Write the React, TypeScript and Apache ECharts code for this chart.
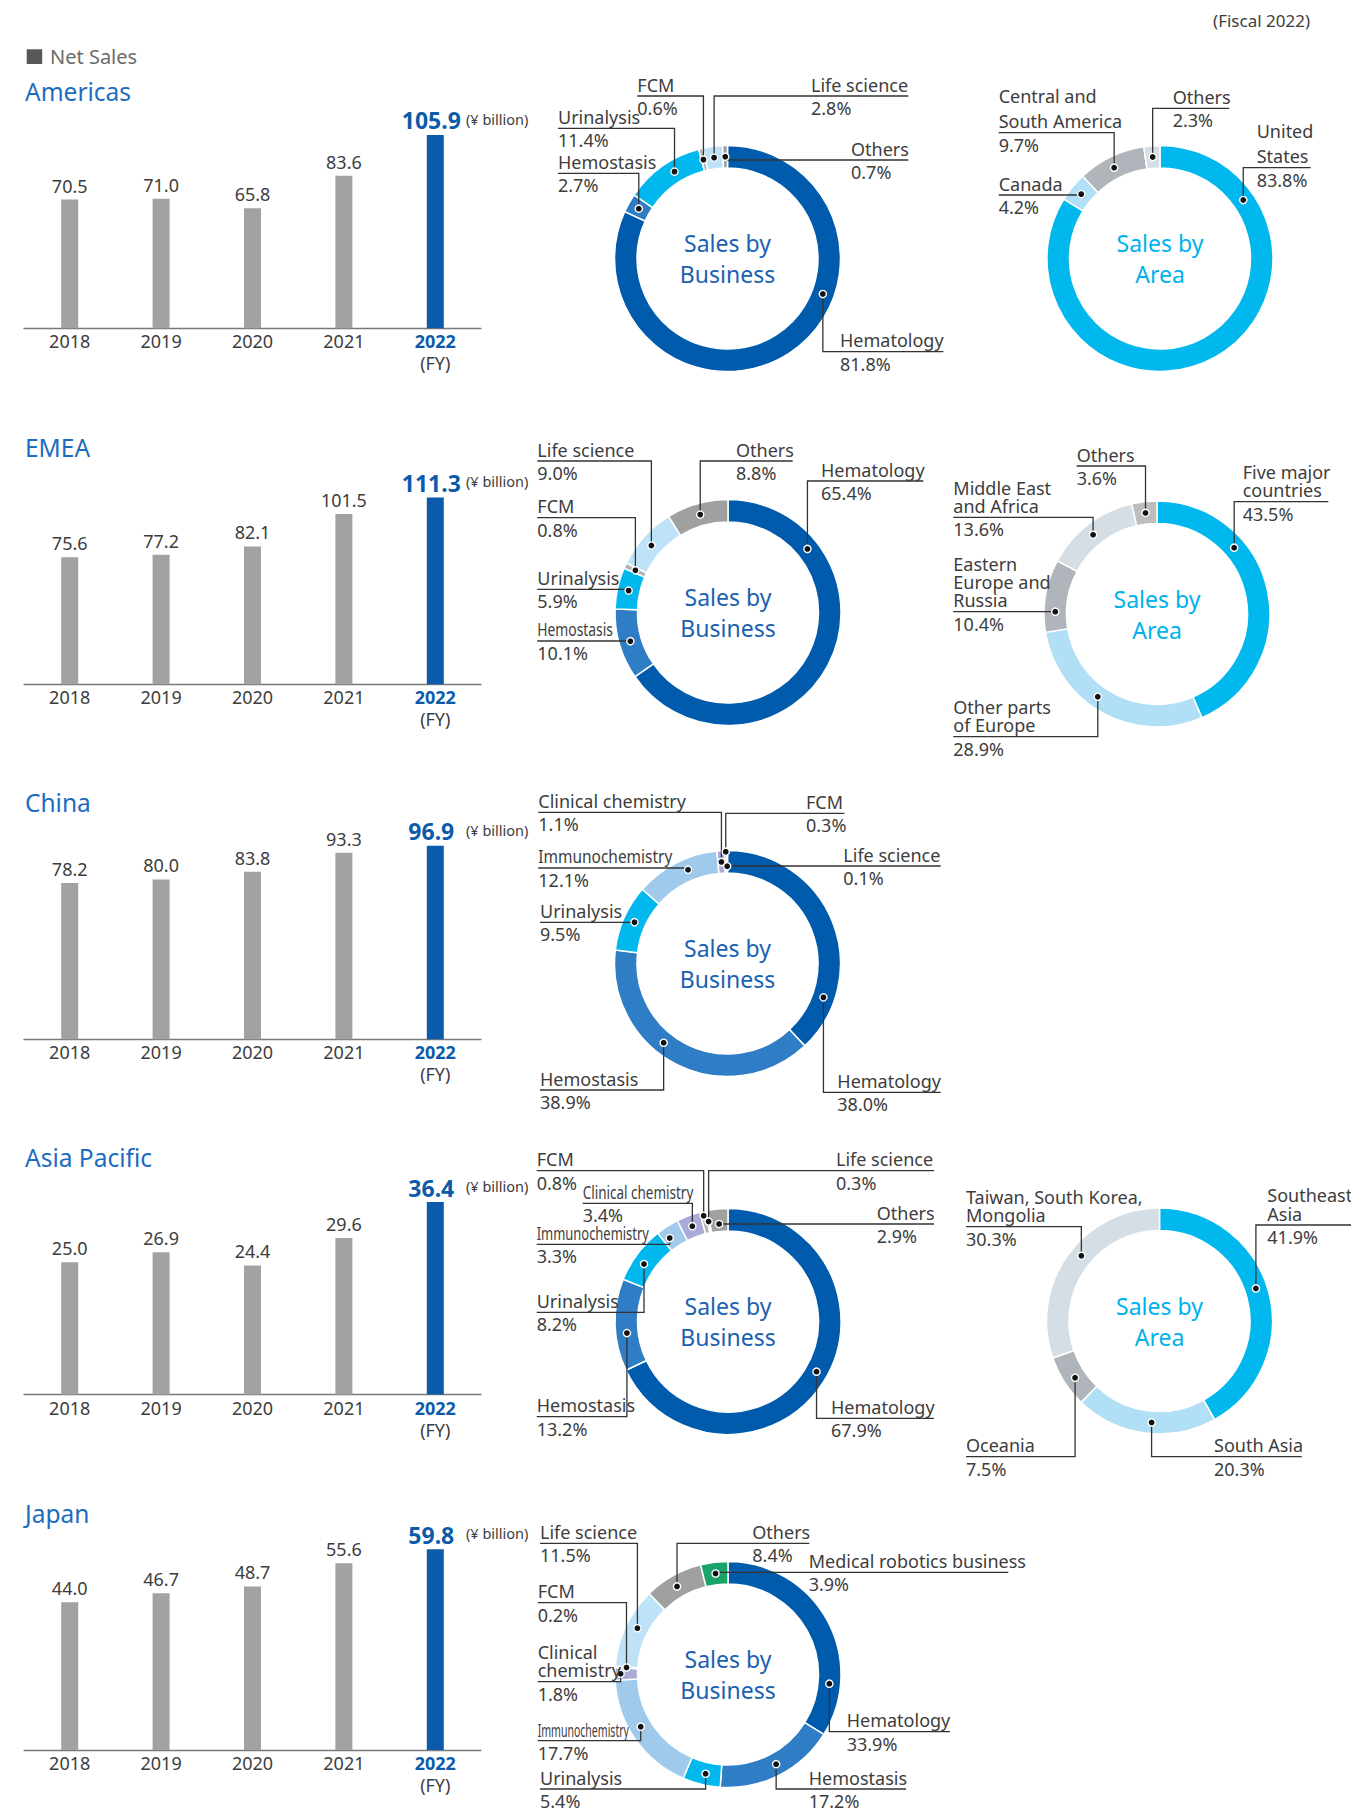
import { useEffect, useRef } from "react";
import * as echarts from "echarts";

// ---------- data ----------
const years = ["2018", "2019", "2020", "2021", "2022"];
const regionTitles = ["Americas", "EMEA", "China", "Asia Pacific", "Japan"];
const americasSales = [70.5, 71.0, 65.8, 83.6, 105.9];
const emeaSales = [75.6, 77.2, 82.1, 101.5, 111.3];
const chinaSales = [78.2, 80.0, 83.8, 93.3, 96.9];
const apSales = [25.0, 26.9, 24.4, 29.6, 36.4];
const japanSales = [44.0, 46.7, 48.7, 55.6, 59.8];

const americasBizNames = ["Hematology", "Hemostasis", "Urinalysis", "FCM", "Life science", "Others"];
const americasBizValues = [81.8, 2.7, 11.4, 0.6, 2.8, 0.7];
const emeaBizNames = ["Hematology", "Hemostasis", "Urinalysis", "FCM", "Life science", "Others"];
const emeaBizValues = [65.4, 10.1, 5.9, 0.8, 9.0, 8.8];
const chinaBizNames = ["Hematology", "Hemostasis", "Urinalysis", "Immunochemistry", "Clinical chemistry", "FCM", "Life science"];
const chinaBizValues = [38.0, 38.9, 9.5, 12.1, 1.1, 0.3, 0.1];
const apBizNames = ["Hematology", "Hemostasis", "Urinalysis", "Immunochemistry", "Clinical chemistry", "FCM", "Life science", "Others"];
const apBizValues = [67.9, 13.2, 8.2, 3.3, 3.4, 0.8, 0.3, 2.9];
const japanBizNames = ["Hematology", "Hemostasis", "Urinalysis", "Immunochemistry", "Clinical\nchemistry", "FCM", "Life science", "Others", "Medical robotics business"];
const japanBizValues = [33.9, 17.2, 5.4, 17.7, 1.8, 0.2, 11.5, 8.4, 3.9];

const americasAreaNames = ["United\nStates", "Canada", "Central and\nSouth America", "Others"];
const americasAreaValues = [83.8, 4.2, 9.7, 2.3];
const emeaAreaNames = ["Five major\ncountries", "Other parts\nof Europe", "Eastern\nEurope and\nRussia", "Middle East\nand Africa", "Others"];
const emeaAreaValues = [43.5, 28.9, 10.4, 13.6, 3.6];
const apAreaNames = ["Southeast\nAsia", "South Asia", "Oceania", "Taiwan, South Korea,\nMongolia"];
const apAreaValues = [41.9, 20.3, 7.5, 30.3];

// ---------- styles / layout ----------
const FONT = "'Noto Sans', 'DejaVu Sans', sans-serif";
const TEXT = "#3d3d3d";
const BLUE_TITLE = "#1c6cbf";
const BAR_GRAY = "#a2a2a2";
const BAR_BLUE = "#0b5baa";

const bizColor: Record<string, string> = {
  Hematology: "#005bac",
  Hemostasis: "#2f7dc4",
  Urinalysis: "#00b8ee",
  Immunochemistry: "#9fcaeb",
  "Clinical chemistry": "#a9acd9",
  "Clinical\nchemistry": "#a9acd9",
  FCM: "#b4b4b4",
  "Life science": "#bee3f8",
  Others: "#9fa0a0",
  "Medical robotics business": "#1aa36b",
};
const americasAreaColors = ["#00b8ee", "#b1dff6", "#afb5bb", "#d5dee4"];
const emeaAreaColors = ["#00b8ee", "#b1dff6", "#afb5bb", "#d5dee4", "#bdbdbd"];
const apAreaColors = ["#00b8ee", "#b1dff6", "#afb5bb", "#d5dee4"];

const rowBase = [328.3, 684.2, 1039.3, 1394.5, 1750];
const yMax = [126.0, 137.1, 115.1, 43.5, 68.5];
const GRID_H = 230;
const R_IN = 90.5;
const R_OUT = 113;

type LP = { tx: number; ty: number; ex: number; t?: number; rf?: number; sx?: number };

const americasBizLayout: LP[] = [
  { tx: 840, ty: 351.7, ex: 943.3, t: 0.375 },
  { tx: 558, ty: 173.3, ex: 558 },
  { tx: 558, ty: 128.3, ex: 558, t: 0.595 },
  { tx: 637.3, ty: 96, ex: 637.3 },
  { tx: 811, ty: 96, ex: 908.3 },
  { tx: 851, ty: 160, ex: 908.3 },
];
const americasAreaLayout: LP[] = [
  { tx: 1256.7, ty: 167.7, ex: 1310.7, t: 0.182 },
  { tx: 998.7, ty: 195, ex: 998.7 },
  { tx: 998.7, ty: 132.7, ex: 998.7, t: 0.47 },
  { tx: 1172.7, ty: 108.3, ex: 1229.3 },
];
const emeaBizLayout: LP[] = [
  { tx: 821, ty: 481, ex: 923.3, t: 0.218 },
  { tx: 537.3, ty: 641, ex: 537.3, sx: 0.77 },
  { tx: 537.3, ty: 589.3, ex: 537.3 },
  { tx: 537.3, ty: 517.7, ex: 537.3 },
  { tx: 537.3, ty: 461, ex: 537.3, t: 0.47 },
  { tx: 736, ty: 461, ex: 792.7 },
];
const emeaAreaLayout: LP[] = [
  { tx: 1242.7, ty: 501.7, ex: 1328.3, t: 0.315 },
  { tx: 953.3, ty: 736.7, ex: 953.3, t: 0.567 },
  { tx: 953.3, ty: 611.7, ex: 953.3, t: 0.285 },
  { tx: 953.3, ty: 517.3, ex: 953.3, t: 0.47 },
  { tx: 1076.7, ty: 466, ex: 1076.7 },
];
const chinaBizLayout: LP[] = [
  { tx: 837.3, ty: 1092.3, ex: 940.7, t: 0.8 },
  { tx: 540, ty: 1090, ex: 540, t: 0.586 },
  { tx: 540, ty: 922.3, ex: 540 },
  { tx: 538.3, ty: 868, ex: 538.3, t: 0.6, sx: 0.86 },
  { tx: 538.3, ty: 812.3, ex: 538.3 },
  { tx: 806, ty: 813.3, ex: 844.3, rf: 0.95 },
  { tx: 843.3, ty: 866, ex: 940.7, rf: 0.3 },
];
const apBizLayout: LP[] = [
  { tx: 831, ty: 1418.3, ex: 934, t: 0.489 },
  { tx: 536.7, ty: 1416.7, ex: 536.7, t: 0.4 },
  { tx: 536.7, ty: 1312.3, ex: 536.7, t: 0.42 },
  { tx: 536.7, ty: 1244.3, ex: 536.7, t: 0.3, sx: 0.72 },
  { tx: 582.7, ty: 1203.3, ex: 582.7, sx: 0.75 },
  { tx: 536.7, ty: 1170.7, ex: 536.7, rf: 0.8 },
  { tx: 836, ty: 1170.7, ex: 934 },
  { tx: 876.7, ty: 1224, ex: 934, rf: 0.33 },
];
const apAreaLayout: LP[] = [
  { tx: 1267.3, ty: 1225, ex: 1351, t: 0.473 },
  { tx: 1214, ty: 1456.7, ex: 1301.7, t: 0.46 },
  { tx: 966, ty: 1456.7, ex: 966, t: 0.45 },
  { tx: 966, ty: 1226.7, ex: 966, t: 0.54 },
];
const japanBizLayout: LP[] = [
  { tx: 846.7, ty: 1731.7, ex: 950, t: 0.78 },
  { tx: 808.7, ty: 1789, ex: 906, t: 0.48 },
  { tx: 540, ty: 1789, ex: 540, t: 0.45 },
  { tx: 537.7, ty: 1740.7, ex: 537.7, t: 0.56, sx: 0.585 },
  { tx: 537.7, ty: 1681.7, ex: 537.7, rf: 0.75 },
  { tx: 537.7, ty: 1602.7, ex: 537.7 },
  { tx: 540, ty: 1543.3, ex: 540, t: 0.55 },
  { tx: 752.3, ty: 1543.3, ex: 809.3, t: 0.47 },
  { tx: 808.7, ty: 1572.3, ex: 1008.3 },
];

function buildDonut(
  names: string[],
  values: number[],
  colors: string[],
  cx: number,
  cy: number,
  layout: LP[],
  lh: number,
  centerText: string,
  centerColor: string
) {
  const series: any = {
    type: "pie",
    center: [cx, cy],
    radius: [R_IN, R_OUT],
    startAngle: 90,
    clockwise: true,
    silent: true,
    avoidLabelOverlap: false,
    label: { show: false },
    labelLine: { show: false },
    emphasis: { disabled: true },
    itemStyle: { borderColor: "#ffffff", borderWidth: 1.5 },
    data: names.map((n, i) => ({ name: n, value: values[i], itemStyle: { color: colors[i] } })),
  };
  const els: any[] = [];
  const total = values.reduce((a, b) => a + b, 0);
  let acc = 0;
  values.forEach((v, i) => {
    const a0 = (acc / total) * 360;
    acc += v;
    const a1 = (acc / total) * 360;
    const L = layout[i];
    const th = ((a0 + (L.t ?? 0.5) * (a1 - a0)) * Math.PI) / 180;
    const r = R_IN + (L.rf ?? 0.5) * (R_OUT - R_IN);
    const px = cx + r * Math.sin(th);
    const py = cy - r * Math.cos(th);
    els.push({
      type: "polyline",
      z: 20,
      silent: true,
      shape: { points: [[px, py], [px, L.ty], [L.ex, L.ty]] },
      style: { stroke: "#333333", lineWidth: 1.3, fill: null },
    });
    els.push({
      type: "circle",
      z: 21,
      silent: true,
      shape: { cx: px, cy: py, r: 3.6 },
      style: { fill: "#111111", stroke: "#ffffff", lineWidth: 1.4 },
    });
    const nLines = names[i].split("\n").length;
    els.push({
      type: "text",
      z: 22,
      silent: true,
      x: L.tx,
      y: L.ty - 11.5 - ((nLines - 1) * lh) / 2,
      scaleX: L.sx ?? 1,
      style: {
        text: names[i],
        x: 0,
        y: 0,
        fill: TEXT,
        fontSize: 18,
        fontFamily: FONT,
        lineHeight: lh,
        align: "left",
        textAlign: "left",
        verticalAlign: "middle",
        textVerticalAlign: "middle",
      },
    });
    els.push({
      type: "text",
      z: 22,
      silent: true,
      x: L.tx,
      y: L.ty + 11.8,
      style: {
        text: v.toFixed(1) + "%",
        fill: TEXT,
        fontSize: 18,
        fontFamily: FONT,
        lineHeight: 18,
        align: "left",
        textAlign: "left",
        verticalAlign: "middle",
        textVerticalAlign: "middle",
      },
    });
  });
  els.push({
    type: "text",
    z: 22,
    silent: true,
    x: cx,
    y: cy,
    style: {
      text: centerText,
      fill: centerColor,
      fontSize: 23,
      fontFamily: FONT,
      lineHeight: 31,
      align: "center",
      textAlign: "center",
      verticalAlign: "middle",
      textVerticalAlign: "middle",
    },
  });
  return { series, els };
}

export default function App() {
  const ref = useRef<HTMLDivElement>(null);
  useEffect(() => {
    document.body.style.margin = "0";
    if (!ref.current) return;
    const chart = echarts.init(ref.current, undefined, { renderer: "svg" });
    const salesRows = [americasSales, emeaSales, chinaSales, apSales, japanSales];

    const grids: any[] = [];
    const xAxes: any[] = [];
    const yAxes: any[] = [];
    const series: any[] = [];
    const els: any[] = [];

    salesRows.forEach((row, i) => {
      const base = rowBase[i];
      grids.push({ left: 24, top: base - GRID_H, width: 457, height: GRID_H });
      xAxes.push({
        type: "category",
        gridIndex: i,
        data: years,
        axisTick: { show: false },
        axisLine: { lineStyle: { color: "#7a7a7a", width: 1.3 } },
        axisLabel: {
          margin: 2,
          formatter: (v: string, idx: number) =>
            idx === years.length - 1 ? `{hl|${v}}\n{n|(FY)}` : `{n|${v}}`,
          rich: {
            n: { fontSize: 18, color: TEXT, fontFamily: FONT, lineHeight: 22 },
            hl: { fontSize: 18, color: BAR_BLUE, fontWeight: "bold", fontFamily: FONT, lineHeight: 22 },
          },
        },
      });
      yAxes.push({ type: "value", gridIndex: i, min: 0, max: yMax[i], show: false, splitLine: { show: false } });
      series.push({
        type: "bar",
        xAxisIndex: i,
        yAxisIndex: i,
        barWidth: 17,
        silent: true,
        label: {
          show: true,
          position: "top",
          distance: 5,
          fontSize: 18,
          color: TEXT,
          fontFamily: FONT,
          formatter: (p: any) => Number(p.value).toFixed(1),
        },
        data: row.map((v, j) =>
          j === row.length - 1
            ? {
                value: v,
                itemStyle: { color: BAR_BLUE },
                label: { fontSize: 23, fontWeight: "bold", color: BAR_BLUE, distance: 3, offset: [-4, 0] },
              }
            : { value: v, itemStyle: { color: BAR_GRAY } }
        ),
      });
      // region title
      els.push({
        type: "text",
        x: 25,
        y: base - 236.6,
        style: {
          text: regionTitles[i],
          fill: BLUE_TITLE,
          fontSize: 24.5,
          fontFamily: FONT,
          align: "left",
          textAlign: "left",
          verticalAlign: "middle",
          textVerticalAlign: "middle",
        },
      });
      // unit text next to the last value
      const last = row[row.length - 1];
      const barTop = base - (last / yMax[i]) * GRID_H;
      els.push({
        type: "text",
        x: 466,
        y: barTop - 16,
        style: {
          text: "(¥ billion)",
          fill: TEXT,
          fontSize: 14.5,
          fontFamily: FONT,
          align: "left",
          textAlign: "left",
          verticalAlign: "middle",
          textVerticalAlign: "middle",
        },
      });
    });

    const donuts = [
      buildDonut(americasBizNames, americasBizValues, americasBizNames.map((n) => bizColor[n]), 727.5, 258.5, americasBizLayout, 18.3, "Sales by\nBusiness", "#1a62b1"),
      buildDonut(americasAreaNames, americasAreaValues, americasAreaColors, 1160, 258.5, americasAreaLayout, 25, "Sales by\nArea", "#00b2ec"),
      buildDonut(emeaBizNames, emeaBizValues, emeaBizNames.map((n) => bizColor[n]), 728, 612.5, emeaBizLayout, 18.3, "Sales by\nBusiness", "#1a62b1"),
      buildDonut(emeaAreaNames, emeaAreaValues, emeaAreaColors, 1157, 614, emeaAreaLayout, 18.3, "Sales by\nArea", "#00b2ec"),
      buildDonut(chinaBizNames, chinaBizValues, chinaBizNames.map((n) => bizColor[n]), 727.5, 963.5, chinaBizLayout, 18.3, "Sales by\nBusiness", "#1a62b1"),
      buildDonut(apBizNames, apBizValues, apBizNames.map((n) => bizColor[n]), 728, 1321.5, apBizLayout, 18.3, "Sales by\nBusiness", "#1a62b1"),
      buildDonut(apAreaNames, apAreaValues, apAreaColors, 1159.5, 1321, apAreaLayout, 18.3, "Sales by\nArea", "#00b2ec"),
      buildDonut(japanBizNames, japanBizValues, japanBizNames.map((n) => bizColor[n]), 728, 1674.5, japanBizLayout, 18.3, "Sales by\nBusiness", "#1a62b1"),
    ];
    donuts.forEach((d) => {
      series.push(d.series);
      els.push(...d.els);
    });

    // header texts
    els.push({
      type: "rect",
      shape: { x: 26.7, y: 49.3, width: 15.5, height: 14.7 },
      style: { fill: "#595757" },
    });
    els.push({
      type: "text",
      x: 50,
      y: 56.8,
      style: {
        text: "Net Sales",
        fill: "#6b6b6b",
        fontSize: 20,
        fontFamily: FONT,
        align: "left",
        textAlign: "left",
        verticalAlign: "middle",
        textVerticalAlign: "middle",
      },
    });
    els.push({
      type: "text",
      x: 1310,
      y: 20,
      style: {
        text: "(Fiscal 2022)",
        fill: TEXT,
        fontSize: 17,
        fontFamily: FONT,
        align: "right",
        textAlign: "right",
        verticalAlign: "middle",
        textVerticalAlign: "middle",
      },
    });

    chart.setOption({
      animation: false,
      backgroundColor: "#ffffff",
      textStyle: { fontFamily: FONT },
      grid: grids,
      xAxis: xAxes,
      yAxis: yAxes,
      series,
      graphic: { elements: els },
    });
    return () => chart.dispose();
  }, []);
  return <div ref={ref} style={{ width: 1351, height: 1818 }} />;
}
